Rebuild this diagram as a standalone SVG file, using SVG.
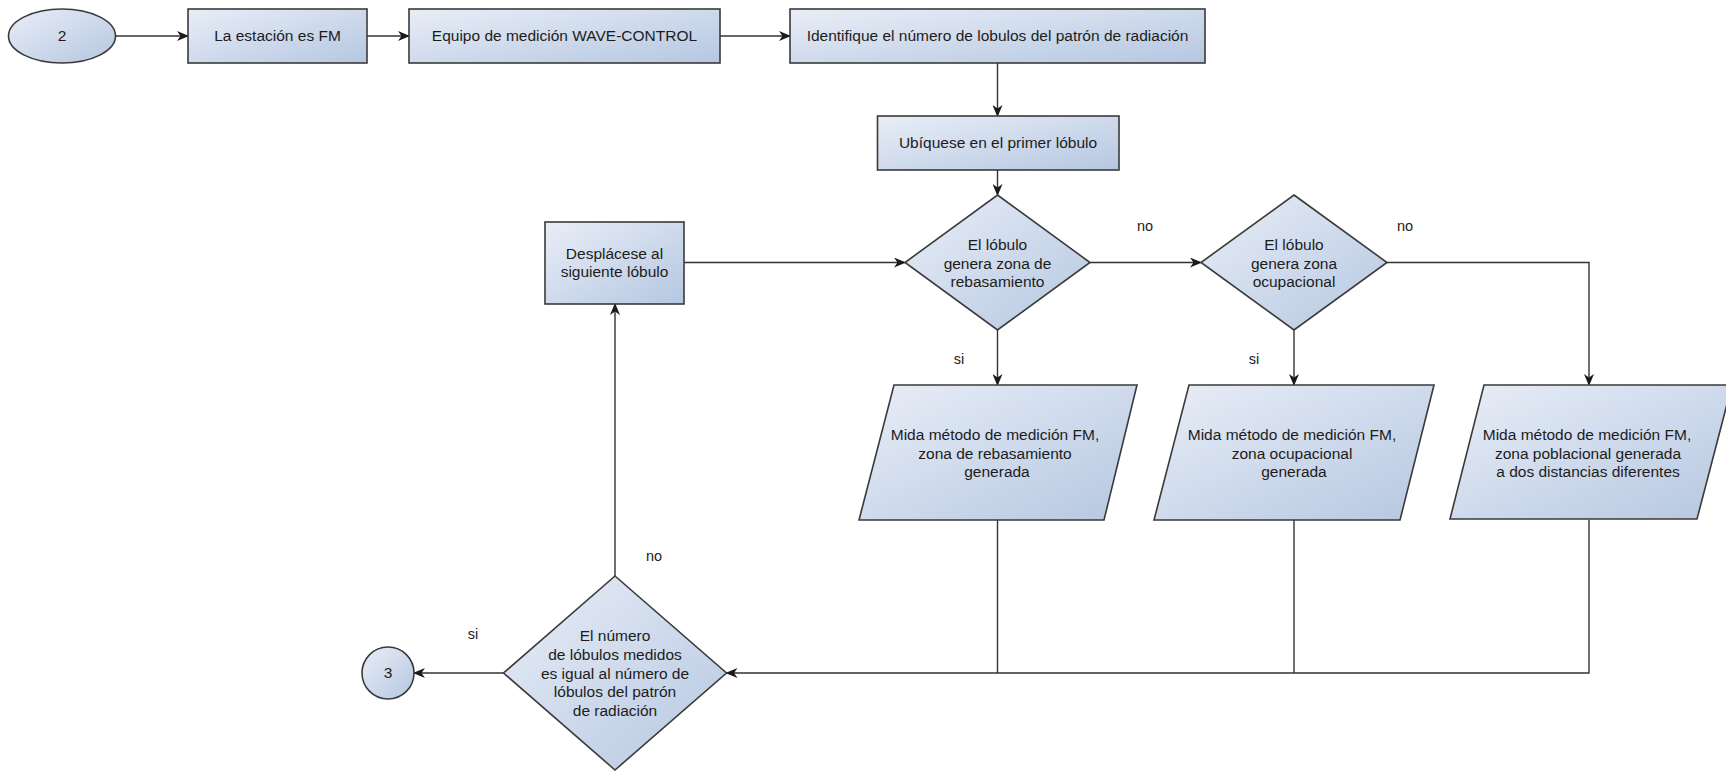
<svg xmlns="http://www.w3.org/2000/svg" width="1726" height="772" viewBox="0 0 1726 772">
<defs>
<linearGradient id="g" x1="0" y1="0" x2="1" y2="1">
<stop offset="0" stop-color="#e9eef7"/>
<stop offset="1" stop-color="#b5c7e1"/>
</linearGradient>
<marker id="a" markerWidth="12" markerHeight="10" refX="11" refY="5" orient="auto" markerUnits="userSpaceOnUse">
<path d="M0,0 L12,5 L0,10 L3.5,5 Z" fill="#1a1a1a"/>
</marker>
<style>
.s{fill:url(#g);stroke:#3a3a3a;stroke-width:1.6}
.t{font-family:"Liberation Sans",Arial,sans-serif;font-size:15.5px;fill:#1c1c1c;text-anchor:middle}
.l{font-family:"Liberation Sans",Arial,sans-serif;font-size:14.5px;fill:#1c1c1c;text-anchor:middle}
.c{fill:none;stroke:#333;stroke-width:1.4}
</style>
</defs>
<rect width="1726" height="772" fill="#ffffff"/>
<g id="connectors">
<path class="c" d="M115.5,36 L188,36" marker-end="url(#a)"/>
<path class="c" d="M367,36 L409,36" marker-end="url(#a)"/>
<path class="c" d="M720,36 L790,36" marker-end="url(#a)"/>
<path class="c" d="M997.5,63 L997.5,116" marker-end="url(#a)"/>
<path class="c" d="M997.5,170 L997.5,195" marker-end="url(#a)"/>
<path class="c" d="M684,262.5 L905,262.5" marker-end="url(#a)"/>
<path class="c" d="M1090,262.5 L1201,262.5" marker-end="url(#a)"/>
<path class="c" d="M1387,262.5 L1589,262.5 L1589,385" marker-end="url(#a)"/>
<path class="c" d="M997.5,330 L997.5,385" marker-end="url(#a)"/>
<path class="c" d="M1294,330 L1294,385" marker-end="url(#a)"/>
<path class="c" d="M997.5,520 L997.5,673"/>
<path class="c" d="M1294,520 L1294,673"/>
<path class="c" d="M1589,520 L1589,673 L726.5,673" marker-end="url(#a)"/>
<path class="c" d="M615,576 L615,304" marker-end="url(#a)"/>
<path class="c" d="M503.5,673 L414,673" marker-end="url(#a)"/>
<text class="l" x="1145" y="231">no</text>
<text class="l" x="1405" y="231">no</text>
<text class="l" x="959" y="364">si</text>
<text class="l" x="1254" y="364">si</text>
<text class="l" x="654" y="561">no</text>
<text class="l" x="473" y="639">si</text>
</g>
<g id="start">
<ellipse class="s" cx="62" cy="36" rx="53.5" ry="27"/>
<text class="t" x="62" y="41">2</text>
</g>
<g id="fm">
<rect class="s" x="188" y="9" width="179" height="54"/>
<text class="t" x="277.5" y="41">La estación es FM</text>
</g>
<g id="equipo">
<rect class="s" x="409" y="9" width="311" height="54"/>
<text class="t" x="564.5" y="41">Equipo de medición WAVE-CONTROL</text>
</g>
<g id="identifique">
<rect class="s" x="790" y="9" width="415" height="54"/>
<text class="t" x="997.5" y="41">Identifique el número de lobulos del patrón de radiación</text>
</g>
<g id="ubiquese">
<rect class="s" x="877.5" y="116" width="241.5" height="54"/>
<text class="t" x="998" y="148">Ubíquese en el primer lóbulo</text>
</g>
<g id="rebasamiento">
<polygon class="s" points="997.5,195 1090,262.5 997.5,330 905,262.5"/>
<text class="t" x="997.5" y="249.8">El lóbulo</text>
<text class="t" x="997.5" y="268.5">genera zona de</text>
<text class="t" x="997.5" y="287.2">rebasamiento</text>
</g>
<g id="ocupacional">
<polygon class="s" points="1294,195 1387,262.5 1294,330 1201,262.5"/>
<text class="t" x="1294" y="249.8">El lóbulo</text>
<text class="t" x="1294" y="268.5">genera zona</text>
<text class="t" x="1294" y="287.2">ocupacional</text>
</g>
<g id="desplacese">
<rect class="s" x="545" y="222" width="139" height="82"/>
<text class="t" x="614.5" y="258.6">Desplácese al</text>
<text class="t" x="614.5" y="277.4">siguiente lóbulo</text>
</g>
<g id="mida-rebasamiento">
<polygon class="s" points="894,385 1137,385 1104,520 859,520"/>
<text class="t" x="995" y="440">Mida método de medición FM,</text>
<text class="t" x="995" y="458.7">zona de rebasamiento</text>
<text class="t" x="997" y="477.4">generada</text>
</g>
<g id="mida-ocupacional">
<polygon class="s" points="1189,385 1434,385 1400,520 1154,520"/>
<text class="t" x="1292" y="440">Mida método de medición FM,</text>
<text class="t" x="1292" y="458.7">zona ocupacional</text>
<text class="t" x="1294" y="477.4">generada</text>
</g>
<g id="mida-poblacional">
<polygon class="s" points="1484,385 1732,385 1697,519 1450,519"/>
<text class="t" x="1587" y="440">Mida método de medición FM,</text>
<text class="t" x="1588" y="458.7">zona poblacional generada</text>
<text class="t" x="1588" y="477.4">a dos distancias diferentes</text>
</g>
<g id="igual">
<polygon class="s" points="615,576 726.5,673 615,770 503.5,673"/>
<text class="t" x="615" y="641">El número</text>
<text class="t" x="615" y="659.8">de lóbulos medidos</text>
<text class="t" x="615" y="678.5">es igual al número de</text>
<text class="t" x="615" y="697.2">lóbulos del patrón</text>
<text class="t" x="615" y="716">de radiación</text>
</g>
<g id="end">
<circle class="s" cx="388" cy="673" r="26"/>
<text class="t" x="388" y="678">3</text>
</g>
</svg>
